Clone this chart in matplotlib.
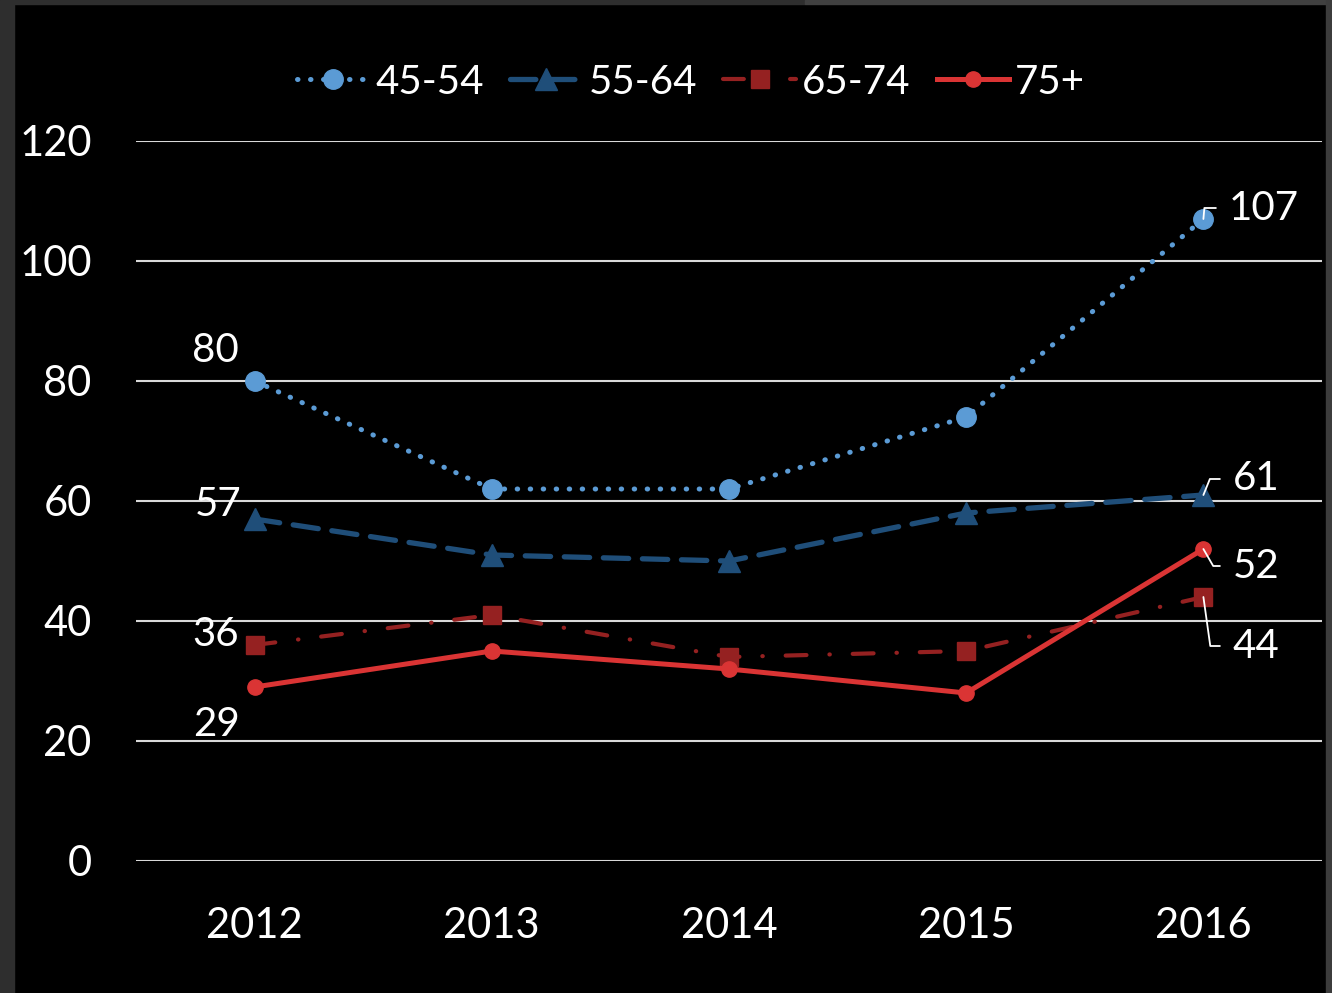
import matplotlib
matplotlib.use('Agg')
import matplotlib.pyplot as plt
from matplotlib.patches import Rectangle

years = ['2012', '2013', '2014', '2015', '2016']
s_45_54 = [80, 62, 62, 74, 107]
s_55_64 = [57, 51, 50, 58, 61]
s_65_74 = [36, 41, 34, 35, 44]
s_75 = [29, 35, 32, 28, 52]
series_names = ['45-54', '55-64', '65-74', '75+']

plt.rcParams['font.family'] = ['Lato', 'DejaVu Sans']

fig = plt.figure(figsize=(13.32, 9.93), dpi=100, facecolor='black')
ax = fig.add_axes([136 / 1332, 1 - 861 / 993, 1186 / 1332, 720 / 993])
ax.set_facecolor('black')

# frame strips around the slide
fig.patches.append(Rectangle((0, 0), 14 / 1332, 1, transform=fig.transFigure,
                             color='#2e2e2e', zorder=0))
fig.patches.append(Rectangle((0, 1 - 4 / 993), 805 / 1332, 4 / 993, transform=fig.transFigure,
                             color='#2e2e2e', zorder=0))
fig.patches.append(Rectangle((805 / 1332, 1 - 4 / 993), 1 - 805 / 1332, 4 / 993,
                             transform=fig.transFigure, color='#404040', zorder=0))
fig.patches.append(Rectangle((1 - 6 / 1332, 0), 6 / 1332, 1, transform=fig.transFigure,
                             color='#3c3c3c', zorder=0))

x = list(range(len(years)))

ax.plot(x, s_45_54, color='#5b9bd5', lw=3.6, linestyle=(0, (0.1, 2.5)),
        dash_capstyle='round', marker='o', markersize=14, label=series_names[0], zorder=3)
ax.plot(x, s_55_64, color='#1f4e79', lw=3.8, linestyle=(0, (4.8, 2.6)),
        dash_capstyle='round', marker='^', markersize=16, label=series_names[1], zorder=3)
ax.plot(x, s_65_74, color='#952121', lw=3.0, linestyle=(0, (5.0, 5.5, 0.1, 5.5)),
        dash_capstyle='round', marker='s', markersize=13, label=series_names[2], zorder=3)
ax.plot(x, s_75, color='#da3434', lw=3.6, linestyle='-',
        marker='o', markersize=11, label=series_names[3], zorder=4)

ax.set_xlim(-0.5, 4.5)
ax.set_ylim(0, 120)
ax.set_yticks(range(0, 121, 20))
ax.set_xticks(x)
ax.set_xticklabels(years)
ax.grid(axis='y', color='#d9d9d9', lw=1.5)
ax.set_axisbelow(True)
for sp in ax.spines.values():
    sp.set_visible(False)
ax.tick_params(length=0, colors='white', labelsize=30)
ax.tick_params(axis='y', pad=32)
ax.tick_params(axis='x', pad=33)

all_series = [s_45_54, s_55_64, s_65_74, s_75]

# labels at the first year
first_offsets = [(-39, 31), (-36, 15), (-39, 10), (-38, -38)]
for s, off in zip(all_series, first_offsets):
    ax.annotate(str(s[0]), xy=(0, s[0]), xytext=off, textcoords='offset pixels',
                ha='center', va='center', color='white', fontsize=29)

# labels at the last year with leader lines
last_offsets = [(25, 11, 85), (29, 16, 68), (29, -49, -82), (29, -17, -60)]
for s, (dx, dy, ang) in zip(all_series, last_offsets):
    ax.annotate(str(s[-1]), xy=(4, s[-1]), xytext=(dx, dy), textcoords='offset pixels',
                ha='left', va='center', color='white', fontsize=29,
                arrowprops=dict(arrowstyle='-', color='white', lw=1.3, relpos=(0, 0.5),
                                shrinkA=7, shrinkB=0,
                                connectionstyle='angle,angleA=0,angleB=%d,rad=0' % ang),
                zorder=6)

leg = fig.legend(loc='center', bbox_to_anchor=(691 / 1332, 1 - 82 / 993), ncol=4,
                 frameon=False, fontsize=29, labelcolor='white', handlelength=1.8,
                 handletextpad=0.15, columnspacing=0.65)

fig.savefig('out.png', dpi=100, facecolor='black')
